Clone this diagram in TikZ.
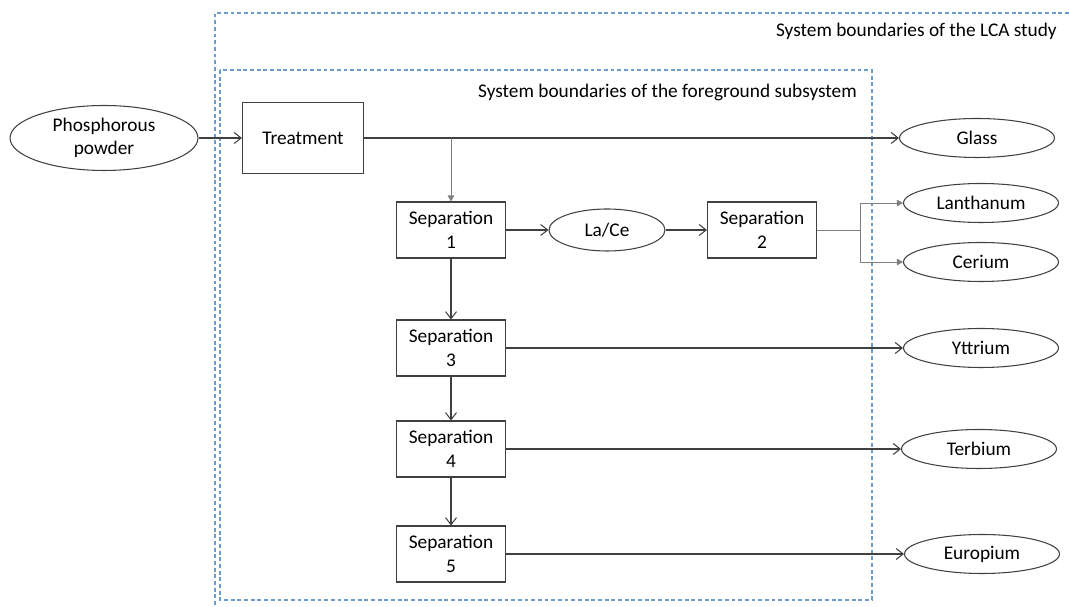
\documentclass[tikz,border=0pt]{standalone}
\usepackage{fontspec}
\setmainfont{Carlito}
\usepackage{xcolor}
\usepackage{tikz}
\usetikzlibrary{shapes,arrows.meta,positioning,calc}
\definecolor{lcablue}{HTML}{6A9BCB}
\definecolor{lcagray}{HTML}{404040}
\definecolor{lcalight}{HTML}{7F7F7F}

\begin{document}
\begin{tikzpicture}[
    x=0.02cm,y=-0.02cm,
    font=\fontsize{11}{13.3}\selectfont,
    proc/.style = {rectangle,draw=lcagray,line width=0.6pt,align=center,
                   inner sep=0pt,minimum width=2.18cm,minimum height=1.12cm},
    prod/.style = {ellipse,draw=lcagray,line width=0.6pt,align=center,
                   inner sep=0pt,minimum width=3.1cm,minimum height=0.78cm},
    fl/.style   = {-{Straight Barb[length=1.4mm,width=2.2mm]},lcagray,line width=0.6pt},
    fs/.style   = {-{Triangle[length=1.2mm,width=1.3mm]},lcalight,line width=0.5pt},
    bound/.style= {lcablue,line width=0.6pt,dash pattern=on 2.2pt off 1.6pt},
  ]
  \useasboundingbox (0,0) rectangle (1069,607);

  % system boundaries
  \draw[bound] (1069,13) -- (215,13) -- (215,607);
  \draw[bound] (220,70) rectangle (872,600);
  \node[anchor=east] (lcalbl) at (1063,31) {System boundaries of the LCA study};
  \node[anchor=east] (fglbl)  at (863,92)  {System boundaries of the foreground subsystem};

  % input and treatment
  \node[ellipse,draw=lcagray,line width=0.6pt,align=center,inner sep=0pt,
        minimum width=3.76cm,minimum height=1.3cm] (powder) at (104,138)
       {Phosphorous\\powder};
  \node[proc,minimum width=2.42cm,minimum height=1.42cm] (treat) at (303,138) {Treatment};

  % separations
  \node[proc] (s1) at (451,230) {Separation\\1};
  \node[prod,minimum width=2.32cm,minimum height=0.84cm] (lace) at (607,230) {La/Ce};
  \node[proc] (s2) at (762,230) {Separation\\2};
  \node[proc] (s3) at (451,348) {Separation\\3};
  \node[proc] (s4) at (451,449) {Separation\\4};
  \node[proc] (s5) at (451,554) {Separation\\5};

  % products
  \node[prod] (glass) at (977,138) {Glass};
  \node[prod] (la)    at (981,203) {Lanthanum};
  \node[prod] (ce)    at (981,262) {Cerium};
  \node[prod] (yt)    at (981,348) {Yttrium};
  \node[prod] (tb)    at (979,449) {Terbium};
  \node[prod] (eu)    at (982,554) {Europium};

  \coordinate (jn) at (860,230);

  \foreach \x/\y in {powder/treat,treat/glass,s1/lace,lace/s2,s1/s3,s3/s4,s4/s5,
                     s3/yt,s4/tb,s5/eu}
    \draw[fl] (\x) -- (\y);

  \draw[fs] (s1 |- treat) -- (s1);
  \draw[lcalight,line width=0.5pt] (s2) -- (jn);
  \draw[fs] (jn) |- (la);
  \draw[fs] (jn) |- (ce);

\end{tikzpicture}
\end{document}
